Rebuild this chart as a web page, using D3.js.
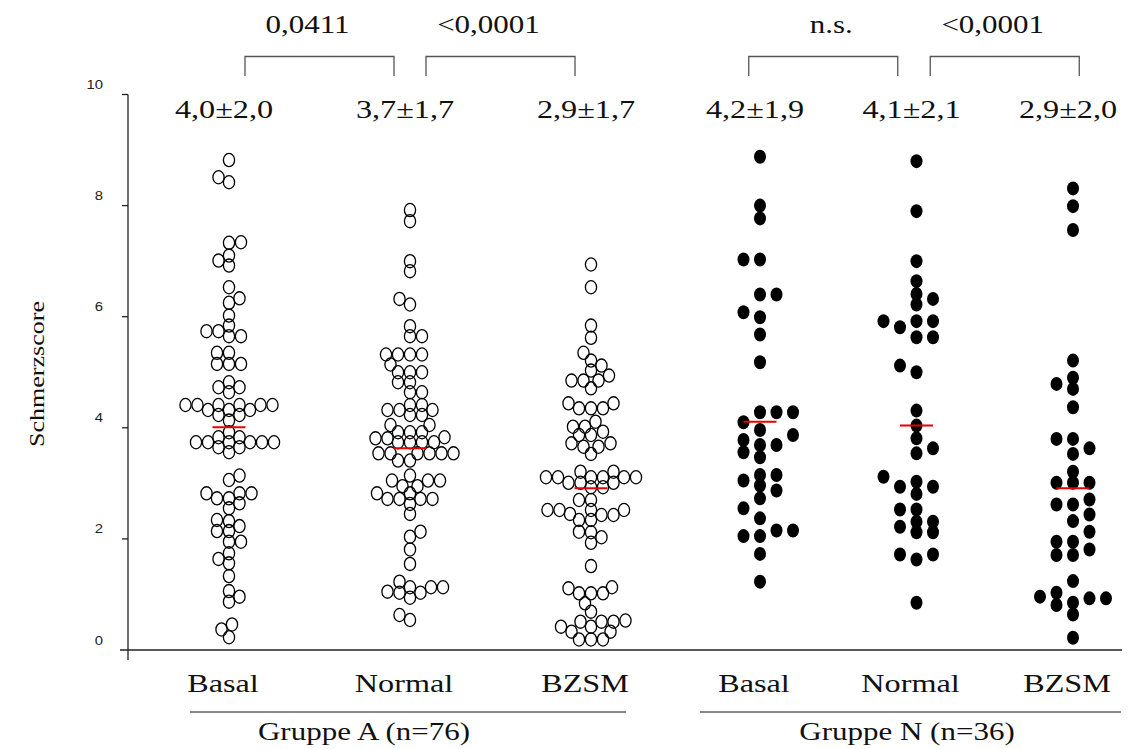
<!DOCTYPE html>
<html lang="de">
<head>
<meta charset="UTF-8">
<title>Schmerzscore</title>
<style>
  body { margin: 0; background: #fff; }
  .serif { font-family: "Liberation Serif", "Times New Roman", serif; fill: #111; }
  .sans { font-family: "Liberation Sans", Arial, sans-serif; fill: #222; }
</style>
</head>
<body>
<script src="https://d3js.org/d3.v7.min.js"></script>
<script>
// ---- data ----
const phases = ['Basal', 'Normal', 'BZSM'];
const groupNames = ['Gruppe A (n=76)', 'Gruppe N (n=36)'];
const yTicks = [0, 2, 4, 6, 8, 10];

const groupA_basal = [8.82, 8.51, 8.42, 7.34, 7.33, 7.10, 7.01, 6.92, 6.53, 6.33, 6.25, 6.02, 5.84, 5.74, 5.74, 5.65, 5.65, 5.35, 5.35, 5.15, 5.15, 5.15, 4.82, 4.73, 4.73, 4.64, 4.41, 4.41, 4.41, 4.41, 4.41, 4.41, 4.32, 4.32, 4.32, 4.23, 4.23, 4.13, 3.92, 3.83, 3.83, 3.74, 3.74, 3.74, 3.74, 3.74, 3.74, 3.65, 3.65, 3.56, 3.14, 3.06, 2.82, 2.82, 2.82, 2.73, 2.73, 2.64, 2.55, 2.34, 2.32, 2.23, 2.14, 2.14, 1.95, 1.95, 1.74, 1.64, 1.56, 1.33, 1.06, 0.96, 0.87, 0.46, 0.37, 0.23];
const groupA_normal = [7.92, 7.72, 7.00, 6.82, 6.32, 6.22, 5.83, 5.65, 5.65, 5.32, 5.32, 5.32, 5.32, 5.14, 5.00, 5.00, 5.00, 4.82, 4.82, 4.64, 4.64, 4.41, 4.41, 4.32, 4.32, 4.32, 4.23, 4.23, 4.05, 4.05, 3.92, 3.92, 3.92, 3.83, 3.81, 3.81, 3.74, 3.74, 3.74, 3.74, 3.54, 3.54, 3.54, 3.54, 3.54, 3.54, 3.41, 3.41, 3.14, 3.05, 3.05, 3.05, 2.95, 2.95, 2.82, 2.82, 2.72, 2.72, 2.72, 2.72, 2.63, 2.45, 2.13, 2.04, 1.81, 1.55, 1.23, 1.13, 1.13, 1.13, 1.05, 1.03, 1.03, 0.94, 0.63, 0.54];
const groupA_bzsm = [6.94, 6.53, 5.84, 5.62, 5.35, 5.21, 5.12, 5.03, 4.94, 4.85, 4.85, 4.85, 4.71, 4.44, 4.44, 4.35, 4.35, 4.35, 4.11, 4.02, 4.02, 3.93, 3.87, 3.87, 3.72, 3.72, 3.66, 3.66, 3.53, 3.21, 3.21, 3.11, 3.11, 3.11, 3.11, 3.11, 3.11, 3.01, 3.01, 3.01, 2.93, 2.93, 2.70, 2.70, 2.52, 2.52, 2.52, 2.52, 2.45, 2.43, 2.43, 2.34, 2.34, 2.13, 2.12, 2.03, 1.93, 1.51, 1.13, 1.11, 1.02, 1.02, 1.02, 0.84, 0.69, 0.53, 0.51, 0.51, 0.51, 0.42, 0.42, 0.33, 0.33, 0.19, 0.19, 0.19];
const groupN_basal = [8.88, 8.00, 7.77, 7.03, 7.03, 6.40, 6.40, 6.08, 5.99, 5.68, 5.18, 4.28, 4.28, 4.28, 4.10, 3.96, 3.87, 3.78, 3.69, 3.69, 3.56, 3.47, 3.15, 3.15, 3.05, 2.96, 2.87, 2.73, 2.55, 2.37, 2.15, 2.15, 2.05, 2.05, 1.73, 1.23];
const groupN_normal = [8.80, 7.90, 7.00, 6.64, 6.41, 6.32, 6.22, 5.92, 5.92, 5.92, 5.81, 5.63, 5.63, 5.12, 5.00, 4.31, 4.04, 3.81, 3.63, 3.54, 3.12, 3.03, 2.94, 2.94, 2.81, 2.53, 2.53, 2.31, 2.31, 2.22, 2.12, 2.12, 1.72, 1.72, 1.63, 0.85];
const groupN_bzsm = [8.31, 7.99, 7.56, 5.21, 4.90, 4.79, 4.70, 4.37, 3.80, 3.80, 3.63, 3.53, 3.21, 3.01, 3.01, 3.01, 2.71, 2.62, 2.62, 2.44, 2.32, 2.13, 1.95, 1.95, 1.81, 1.71, 1.71, 1.24, 1.03, 0.96, 0.93, 0.93, 0.85, 0.81, 0.64, 0.22];

// red marker lines (group means as drawn)
const meanA = [4.01, 3.63, 2.91];
const meanN = [4.11, 4.04, 2.91];
const statsA = ['4,0±2,0', '3,7±1,7', '2,9±1,7'];
const statsN = ['4,2±1,9', '4,1±2,1', '2,9±2,0'];
const pA = ['0,0411', '<0,0001'];
const pN = ['n.s.', '<0,0001'];

// ---- layout ----
const W = 1129, H = 749;
const sx = 1.24;   // the original text is drawn horizontally stretched

const svg = d3.select('body').append('svg')
    .attr('width', W)
    .attr('height', H);

const y = d3.scaleLinear().domain([0, 10]).range([650, 94.5]);
const xA = d3.scalePoint().domain(phases).range([229, 591]);
const xN = d3.scalePoint().domain(phases).range([760, 1073]);

function stretchText(cls, x, yy, str, size, rot, anchor) {
    return svg.append('text')
        .attr('class', cls)
        .attr('text-anchor', anchor || 'middle')
        .attr('transform', `translate(${x},${yy})` + (rot ? ` rotate(${rot})` : '') + ` scale(${sx},1)`)
        .style('font-size', size + 'px')
        .text(str);
}

// greedy beeswarm: try offsets 0, ±step, ±2*step ... until the point is clear
// of every placed point (elliptic clearance ax / ay, so some overlap is allowed)
function swarm(values, opt) {
    const placed = [];
    let flip = 1;
    const pts = values.map(v => ({ v: v, py: y(v) })).sort((a, b) => a.v - b.v);
    pts.forEach(d => {
        const ok = dx => placed.every(p => {
            const u = (p.dx - dx) / opt.ax, w = (p.py - d.py) / opt.ay;
            return u * u + w * w >= 1;
        });
        for (let k = 0; k < 200; k++) {
            const cands = k === 0 ? [0] : [-k * opt.step * flip, k * opt.step * flip];
            const free = cands.filter(ok);
            if (free.length) {
                d.dx = free[0];
                if (free.length === 2) flip = -flip;
                break;
            }
        }
        placed.push(d);
    });
    return pts;
}

// ---- axes ----
const axisG = svg.append('g');
axisG.append('line')
    .attr('x1', 128).attr('x2', 128)
    .attr('y1', y(10)).attr('y2', 660)
    .attr('stroke', '#222').attr('stroke-width', 1.3);
axisG.append('line')
    .attr('x1', 120).attr('x2', 1122)
    .attr('y1', y(0)).attr('y2', y(0))
    .attr('stroke', '#222').attr('stroke-width', 1.3);

axisG.selectAll('.tick')
    .data(yTicks.filter(t => t > 0))
    .enter().append('line')
    .attr('x1', 122).attr('x2', 128)
    .attr('y1', d => y(d)).attr('y2', d => y(d))
    .attr('stroke', '#222').attr('stroke-width', 1.3);

yTicks.forEach(t => stretchText('sans', 103, y(t) - 5.5, t, 12, 0, 'end'));

stretchText('serif', 44, 374, 'Schmerzscore', 21, -90);

// ---- points ----
const sets = [
    { x: xA, filled: false, data: [groupA_basal, groupA_normal, groupA_bzsm], mean: meanA, stats: statsA, p: pA,
      shift: [0, 0], name: groupNames[0], line: [190, 626], nameX: 364, sw: { step: 1.5, ax: 11.5, ay: 9.5 } },
    { x: xN, filled: true, data: [groupN_basal, groupN_normal, groupN_bzsm], mean: meanN, stats: statsN, p: pN,
      shift: [-15, 10], name: groupNames[1], line: [700, 1121], nameX: 907, sw: { step: 16.5, ax: 14, ay: 10.5 } }
];

sets.forEach(g => {
    phases.forEach((ph, i) => {
        const cx = g.x(ph);
        const pts = swarm(g.data[i], g.sw);
        const dots = svg.append('g').selectAll('ellipse')
            .data(pts)
            .enter().append('ellipse')
            .attr('cx', d => cx + d.dx)
            .attr('cy', d => y(d.v))
            .attr('rx', g.filled ? 6 : 5.6)
            .attr('ry', g.filled ? 7 : 6.6);
        if (g.filled) {
            dots.attr('fill', '#000');
        } else {
            dots.attr('fill', 'none').attr('stroke', '#000').attr('stroke-width', 1.3);
        }

        // red mean marker
        svg.append('line')
            .attr('x1', cx - 16.5).attr('x2', cx + 16.5)
            .attr('y1', y(g.mean[i])).attr('y2', y(g.mean[i]))
            .attr('stroke', '#e60000').attr('stroke-width', 2);

        stretchText('serif', cx - 5, 118, g.stats[i], 26);
        stretchText('serif', cx - 6, 692, ph, 26);
    });

    // comparison brackets
    for (let j = 0; j < 2; j++) {
        const mid = (g.x(phases[j]) + g.x(phases[j + 1])) / 2 + g.shift[j];
        const x1 = mid - 74.5, x2 = mid + 74.5;
        svg.append('path')
            .attr('d', `M${x1},76V56.5H${x2}V76`)
            .attr('fill', 'none')
            .attr('stroke', '#555')
            .attr('stroke-width', 1.3);
        stretchText('serif', g.p[j] === 'n.s.' ? mid + 8 : mid - 12, 33, g.p[j], 25);
    }

    // group underline + name
    svg.append('line')
        .attr('x1', g.line[0]).attr('x2', g.line[1])
        .attr('y1', 712).attr('y2', 712)
        .attr('stroke', '#111').attr('stroke-width', 1);
    stretchText('serif', g.nameX, 740, g.name, 25);
});
</script>
</body>
</html>
